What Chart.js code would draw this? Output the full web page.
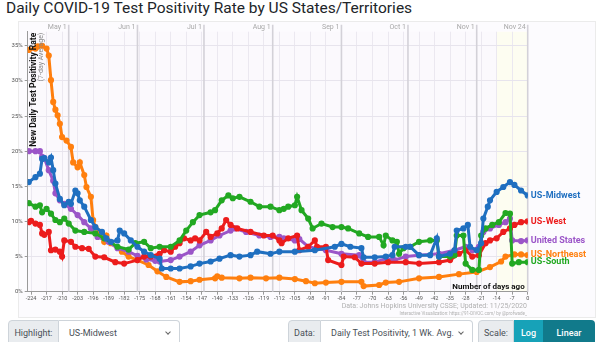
<!DOCTYPE html>
<html>
<head>
<meta charset="utf-8">
<script src="https://cdn.jsdelivr.net/npm/chart.js@4.4.0/dist/chart.umd.min.js"></script>
<style>
  body { margin: 0; width: 600px; height: 342px; overflow: hidden; background: #fff; font-family: Roboto, sans-serif; position: relative; }
  #title { position: absolute; left: 6px; top: -1px; font-size: 15.5px; color: #212529; white-space: nowrap; }
  #panel { position: absolute; left: 18px; top: 21px; width: 578px; height: 297px; background: #fcfbfe; border: 1px solid #ebebeb; box-sizing: border-box; }
  #wrap { position: absolute; left: 0; top: 0; }
  .src { position: absolute; right: 73px; color: #b0b0b0; white-space: nowrap; }
  .ctl { position: absolute; top: 320px; height: 26px; display: flex; font-size: 9px; color: #495057; }
  .lab { background: #e9ecef; border: 1px solid #ced4da; border-radius: 4px 0 0 4px; display: flex; align-items: center; justify-content: center; box-sizing: border-box; }
  .sel { background: #fff; border: 1px solid #ced4da; border-left: none; border-radius: 0 4px 4px 0; display: flex; align-items: center; padding-left: 10px; box-sizing: border-box; position: relative; }
  .sel:after { content: ""; position: absolute; right: 9px; top: 9px; width: 3px; height: 3px; border-right: 1px solid #666; border-bottom: 1px solid #666; transform: rotate(45deg); }
  .btn { color: #fff; display: flex; align-items: center; justify-content: center; box-sizing: border-box; font-weight: 500; }
</style>
</head>
<body>
<div id="title">Daily COVID-19 Test Positivity Rate by US States/Territories</div>
<div id="panel"></div>
<div id="wrap"><canvas id="chart" width="600" height="318"></canvas></div>
<div class="src" style="top:302px;font-size:7px;">Data: Johns Hopkins University CSSE; Updated: 11/25/2020</div>
<div class="src" style="top:311px;font-size:4.5px;">Interactive Visualization: https://91-DIVOC.com/ by @profwade_</div>

<div class="ctl" style="left:8px;">
  <div class="lab" style="width:51px;">Highlight:</div>
  <div class="sel" style="width:121px;">US-Midwest</div>
</div>
<div class="ctl" style="left:288px;">
  <div class="lab" style="width:33px;">Data:</div>
  <div class="sel" style="width:152px;">Daily Test Positivity, 1 Wk. Avg.</div>
</div>
<div class="ctl" style="left:478px;">
  <div class="lab" style="width:36px;">Scale:</div>
  <div class="btn" style="width:29px;background:#17a2b8;">Log</div>
  <div class="btn" style="width:52px;background:#117a8b;border-radius:0 4px 4px 0;">Linear</div>
</div>

<script>
// days ago
const weekTicks = [-224, -217, -210, -203, -196, -189, -182, -175, -168, -161, -154, -147, -140, -133, -126, -119, -112, -105, -98, -91, -84, -77, -70, -63, -56, -49, -42, -35, -28, -21, -14, -7, 0];
const monthDays = [-207, -176, -146, -115, -84, -54, -23, 0];
const monthLabels = ['May 1', 'Jun 1', 'Jul 1', 'Aug 1', 'Sep 1', 'Oct 1', 'Nov 1', 'Nov 24'];
const highlightFrom = -14;

const midwestDays = [-225, -222, -220, -219, -218, -216, -215, -214, -213, -211, -209, -207, -206, -204, -203, -202, -200, -197, -195, -192, -190, -188, -185, -184, -182, -179, -176, -173, -170, -166, -165, -161, -157, -152, -148, -143, -139, -134, -130, -125, -122, -116, -112, -105, -96, -87, -84, -80, -75, -74, -69, -64, -61, -60, -55, -53, -49, -44, -41, -40, -35, -33, -32, -29, -27, -26, -23, -21, -20, -18, -17, -14, -11, -8, -6, -3, 0];
const midwestVals = [15.6, 16.3, 16.8, 18.9, 19.0, 18.4, 19.1, 17.3, 15.4, 13.2, 12.3, 12.8, 12.5, 14.4, 14.0, 13.0, 12.1, 10.2, 9.2, 8.5, 7.6, 7.1, 7.3, 8.7, 8.3, 7.3, 6.4, 5.7, 5.2, 4.7, 3.3, 3.3, 3.3, 3.6, 4.0, 4.3, 4.7, 5.2, 5.0, 5.2, 5.7, 5.4, 5.7, 5.7, 5.9, 6.4, 6.8, 6.4, 6.2, 4.9, 4.9, 5.0, 5.2, 6.4, 6.4, 6.4, 5.2, 5.2, 7.6, 5.0, 5.4, 5.9, 8.7, 9.0, 9.5, 6.4, 5.9, 6.9, 10.4, 12.1, 13.0, 14.2, 14.9, 15.6, 15.2, 14.4, 13.7];

const westDays = [-225, -224, -222, -220, -219, -218, -216, -215, -213, -211, -210, -209, -206, -204, -201, -198, -195, -191, -186, -182, -176, -173, -170, -166, -164, -161, -159, -157, -155, -152, -150, -148, -145, -143, -140, -138, -136, -134, -131, -125, -119, -115, -112, -111, -108, -104, -103, -99, -96, -95, -91, -90, -84, -83, -78, -75, -69, -63, -55, -49, -40, -35, -31, -28, -25, -22, -19, -17, -14, -11, -8, -6, -3, 0];
const westVals = [9.9, 10.1, 9.7, 9.5, 8.3, 8.1, 8.5, 5.9, 6.0, 5.7, 5.0, 7.3, 7.1, 6.4, 6.2, 6.1, 5.0, 4.9, 4.2, 4.0, 4.5, 5.0, 5.0, 5.4, 5.9, 5.7, 6.4, 6.9, 7.6, 7.3, 7.6, 7.3, 8.5, 7.8, 8.3, 9.0, 10.2, 9.5, 9.0, 8.5, 8.0, 8.0, 7.3, 6.9, 7.6, 8.0, 5.9, 6.4, 7.3, 6.4, 6.4, 4.5, 3.8, 5.0, 4.9, 4.0, 4.0, 4.2, 4.2, 4.0, 4.2, 4.5, 5.4, 5.9, 5.0, 5.2, 6.9, 7.3, 7.6, 8.5, 9.0, 9.5, 9.9, 10.0];

const usDays = [-225, -222, -220, -219, -218, -216, -214, -213, -211, -209, -206, -203, -200, -197, -194, -189, -185, -180, -176, -172, -168, -166, -161, -157, -152, -148, -143, -139, -134, -132, -127, -121, -116, -112, -110, -105, -103, -99, -91, -84, -76, -74, -69, -64, -60, -55, -49, -40, -33, -28, -25, -22, -20, -17, -13, -10, -8, -7, -3, 0];
const usVals = [20.0, 20.0, 20.0, 19.2, 19.0, 17.3, 15.8, 14.0, 13.0, 12.5, 11.8, 10.9, 9.9, 9.0, 7.8, 7.1, 6.2, 5.7, 5.1, 4.6, 4.4, 4.3, 4.5, 5.0, 5.7, 6.6, 7.3, 8.0, 8.7, 9.0, 8.5, 8.0, 7.8, 7.8, 7.6, 7.3, 7.5, 6.4, 5.9, 5.4, 5.2, 4.2, 4.2, 4.7, 4.5, 5.0, 5.2, 5.4, 5.9, 6.4, 5.9, 6.4, 8.5, 9.0, 9.5, 9.9, 10.4, 7.3, 7.2, 7.3];

const northeastDays = [-225, -222, -221, -219, -217, -216, -215, -214, -213, -212, -211, -210, -208, -206, -205, -203, -202, -200, -199, -197, -196, -195, -193, -191, -190, -188, -183, -180, -176, -171, -167, -163, -157, -152, -148, -141, -140, -138, -130, -125, -118, -112, -105, -100, -96, -91, -84, -75, -74, -67, -64, -58, -49, -40, -31, -23, -17, -12, -10, -6, -3, 0];
const northeastVals = [34.4, 34.6, 34.9, 35.0, 34.6, 33.6, 30.1, 27.0, 25.9, 25.1, 23.9, 22.0, 21.5, 20.6, 18.4, 17.7, 18.4, 16.6, 14.9, 13.5, 10.2, 9.2, 8.5, 7.1, 8.0, 6.9, 5.7, 5.0, 4.5, 3.8, 2.9, 2.1, 1.4, 1.5, 1.7, 1.9, 2.2, 2.0, 1.9, 2.0, 1.9, 2.0, 1.8, 1.5, 1.2, 1.3, 1.4, 1.4, 0.8, 0.95, 1.3, 1.4, 1.9, 2.1, 2.5, 2.8, 3.5, 4.3, 5.0, 5.3, 5.3, 5.2];

const southDays = [-225, -222, -220, -219, -217, -215, -213, -211, -209, -207, -204, -200, -195, -191, -185, -180, -177, -173, -170, -166, -161, -157, -154, -151, -148, -143, -141, -138, -135, -133, -130, -125, -121, -116, -112, -110, -108, -105, -104, -102, -99, -97, -93, -88, -84, -81, -76, -72, -67, -65, -64, -61, -59, -58, -56, -53, -49, -44, -41, -40, -35, -33, -32, -29, -28, -25, -22, -21, -19, -16, -13, -10, -8, -7, -4, 0];
const southVals = [12.6, 12.1, 12.3, 11.3, 11.8, 11.1, 10.2, 9.9, 10.4, 9.7, 8.7, 8.5, 8.3, 7.6, 6.4, 6.0, 6.9, 7.1, 6.2, 6.4, 6.4, 7.3, 8.7, 9.9, 10.9, 11.3, 11.6, 13.0, 13.7, 13.3, 13.5, 12.8, 12.1, 12.1, 11.6, 11.8, 12.1, 12.3, 13.5, 11.6, 10.4, 9.0, 9.7, 9.2, 9.2, 9.0, 8.3, 7.8, 7.8, 6.6, 8.0, 7.3, 7.1, 5.4, 6.2, 6.4, 7.1, 7.3, 7.3, 5.0, 5.0, 5.2, 8.0, 8.0, 4.0, 3.1, 3.1, 8.0, 9.0, 9.5, 9.9, 11.2, 11.1, 4.0, 4.2, 4.2];

const colors = { midwest: '#1f6fc0', west: '#ec1c1c', us: '#9b55c8', northeast: '#ff7f0e', south: '#22a822' };

function series(label, days, vals, color, order) {
  return {
    label,
    data: days.map((d, i) => ({ x: d, y: vals[i] })),
    borderColor: color,
    backgroundColor: color,
    borderWidth: 3,
    pointRadius: 1.6,
    pointHoverRadius: 0,
    showLine: true,
    tension: 0,
    order
  };
}

const overlay = {
  id: 'overlay',
  beforeDraw(chart) {
    const { ctx, chartArea: a, scales: { x } } = chart;
    ctx.save();
    ctx.fillStyle = '#fbf9fd';
    ctx.fillRect(a.left, a.top, a.right - a.left, a.bottom - a.top);
    const x0 = x.getPixelForValue(highlightFrom);
    ctx.fillStyle = '#fdfdf1';
    ctx.fillRect(x0, a.top, a.right - x0, a.bottom - a.top);
    ctx.restore();
  },
  beforeDatasetsDraw(chart) {
    const { ctx, chartArea: a, scales: { x } } = chart;
    ctx.save();
    ctx.strokeStyle = '#d3d1d8';
    ctx.lineWidth = 1.6;
    ctx.fillStyle = '#a8a8a8';
    ctx.font = '7px Roboto';
    ctx.textAlign = 'right';
    ctx.textBaseline = 'middle';
    monthDays.forEach((d, i) => {
      const px = x.getPixelForValue(d);
      ctx.beginPath();
      ctx.moveTo(px, a.top - 7);
      ctx.lineTo(px, a.bottom);
      ctx.stroke();
      ctx.fillText(monthLabels[i], px - 2, a.top - 4);
    });
    ctx.restore();
  },
  afterDatasetsDraw(chart) {
    const { ctx, chartArea: a } = chart;
    ctx.save();
    ctx.translate(a.left + 6, a.top + 1);
    ctx.rotate(-Math.PI / 2);
    ctx.textAlign = 'right';
    ctx.textBaseline = 'middle';
    ctx.fillStyle = '#111';
    ctx.font = 'bold 8.5px Roboto';
    ctx.fillText('New Daily Test Positivity Rate', 0, 0);
    ctx.fillStyle = '#888';
    ctx.font = '7px Roboto';
    ctx.fillText('(7-day Average)', 0, 8);
    ctx.restore();

    ctx.save();
    ctx.fillStyle = '#111';
    ctx.font = 'bold 8px Roboto';
    ctx.textAlign = 'right';
    ctx.textBaseline = 'middle';
    ctx.fillText('Number of days ago', a.right - 3, a.bottom - 5);
    ctx.restore();
  },
  afterDraw(chart) {
    const { ctx, chartArea: a, scales: { y } } = chart;
    ctx.save();
    ctx.font = 'bold 9px Roboto';
    ctx.textAlign = 'left';
    ctx.textBaseline = 'middle';
    chart.data.datasets.forEach(ds => {
      const last = ds.data[ds.data.length - 1];
      ctx.fillStyle = ds.borderColor;
      ctx.fillText(ds.label, a.right + 3, y.getPixelForValue(last.y));
    });
    ctx.restore();
  }
};

new Chart(document.getElementById('chart'), {
  type: 'scatter',
  data: {
    datasets: [
      series('US-Midwest', midwestDays, midwestVals, colors.midwest, 0),
      series('US-West', westDays, westVals, colors.west, 2),
      series('United States', usDays, usVals, colors.us, 3),
      series('US-Northeast', northeastDays, northeastVals, colors.northeast, 4),
      series('US-South', southDays, southVals, colors.south, 1)
    ]
  },
  options: {
    responsive: false,
    animation: false,
    devicePixelRatio: 1,
    layout: { padding: { left: 0, right: 72.3, top: 31.7, bottom: 14.3 } },
    plugins: { legend: { display: false }, tooltip: { enabled: false } },
    scales: {
      x: {
        type: 'linear',
        min: -225.5,
        max: 0,
        afterBuildTicks: (s) => { s.ticks = weekTicks.map(v => ({ value: v })); },
        afterFit: (s) => { s.height = 12; },
        ticks: { font: { size: 5.5, family: 'Roboto' }, color: '#555', padding: 1, maxRotation: 0, autoSkip: false },
        grid: { color: '#ebe8f0', tickLength: 3, tickColor: '#999' },
        border: { color: '#9a9a9a', width: 1 }
      },
      y: {
        min: 0,
        max: 37,
        afterFit: (s) => { s.width = 27.7; },
        ticks: { stepSize: 5, includeBounds: false, callback: v => v + '%', font: { size: 6, family: 'Roboto' }, color: '#555', padding: 2 },
        grid: { color: '#e7e4ed', tickLength: 3, tickColor: '#999' },
        border: { color: '#9a9a9a', width: 1 }
      }
    }
  },
  plugins: [overlay]
});
</script>
</body>
</html>
